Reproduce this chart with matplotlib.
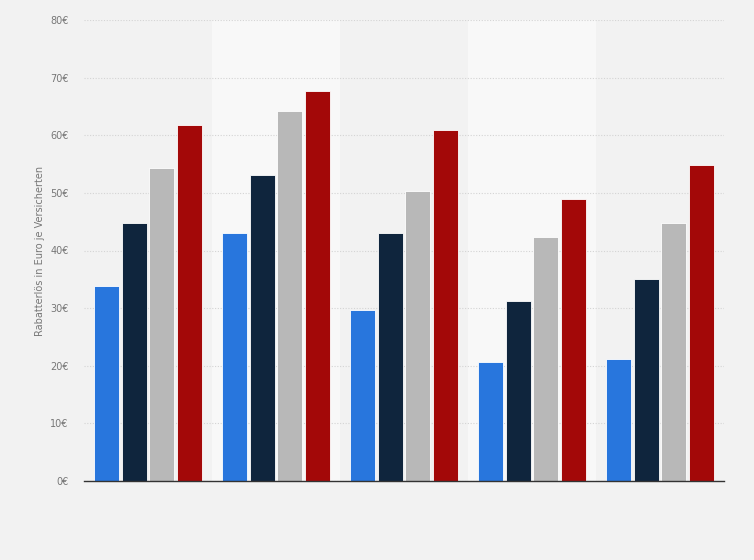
import matplotlib
matplotlib.use("Agg")
import matplotlib.pyplot as plt
import numpy as np

groups = ["1", "2", "3", "4", "5"]
series_blue = [33.8, 43.1, 29.7, 20.7, 21.2]
series_navy = [44.7, 53.1, 43.0, 31.2, 35.1]
series_gray = [54.3, 64.2, 50.3, 42.4, 44.8]
series_red = [61.8, 67.7, 60.9, 48.9, 54.8]
yticks = [0, 10, 20, 30, 40, 50, 60, 70, 80]
ytick_labels = [f"{v}€" for v in yticks]
ylabel = "Rabatterlös in Euro je Versicherten"

colors = ["#2876dd", "#0f253d", "#b8b8b8", "#a30808"]
series = [series_blue, series_navy, series_gray, series_red]

fig = plt.figure(figsize=(7.54, 5.6), dpi=100)
fig.patch.set_facecolor("#f2f2f2")
ax = fig.add_axes([84/754, 1-481/560, 640/754, 461/560])
ax.set_facecolor("#f2f2f2")

x = np.arange(len(groups))
for i in range(len(groups)):
    if i % 2 == 1:
        ax.axvspan(i - 0.5, i + 0.5, color="#f8f8f8", zorder=0, lw=0)

width = 0.197
step = 0.215
for k, (vals, c) in enumerate(zip(series, colors)):
    ax.bar(x + (k - 1.5) * step, vals, width=width, color=c,
           edgecolor="white", linewidth=0.6, zorder=3)

ax.set_xlim(-0.5, len(groups) - 0.5)
ax.set_ylim(0, 80)
ax.set_yticks(yticks)
ax.set_yticklabels(ytick_labels, fontsize=7, color="#777777")
ax.set_xticks([])
ax.yaxis.grid(True, linestyle=(0, (1, 1.5)), color="#d4d4d4", linewidth=0.8, zorder=1)
ax.tick_params(axis="y", length=0, pad=11)
for s in ["top", "right", "left"]:
    ax.spines[s].set_visible(False)
ax.spines["bottom"].set_color("#333333")
ax.spines["bottom"].set_linewidth(1.0)
ax.spines["bottom"].set_zorder(4)
ax.set_ylabel(ylabel, fontsize=7, color="#777777", labelpad=4)

fig.savefig("out.png", dpi=100, facecolor=fig.get_facecolor())
